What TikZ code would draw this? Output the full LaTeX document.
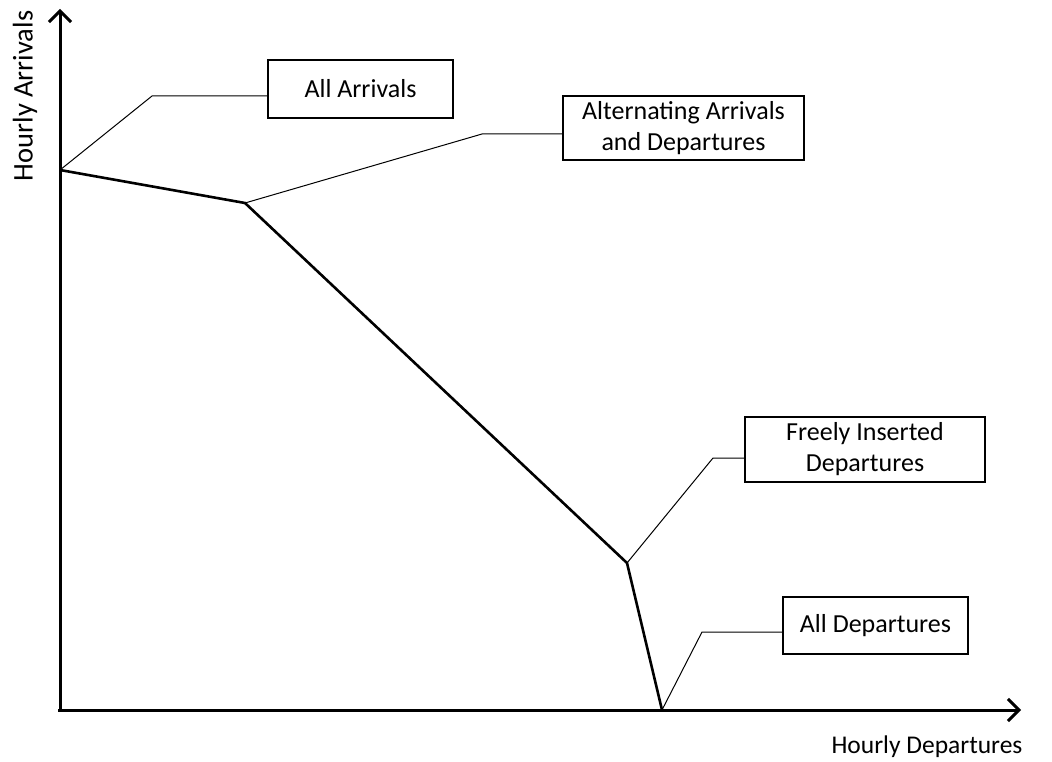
\documentclass[tikz,border=0pt]{standalone}
\usepackage{fontspec}
\setmainfont{Carlito}
\usetikzlibrary{arrows.meta}
\begin{document}
\begin{tikzpicture}[x=1pt,y=-1pt,
  axis/.style={line width=3pt,-{Straight Barb[length=11pt,width=22pt,line width=3pt]}},
  curve/.style={line width=2.6pt,line join=miter},
  leader/.style={line width=1pt},
  label/.style={draw,line width=1.2pt,align=center,inner sep=0pt,
    font=\fontsize{26}{31}\selectfont},
  axlabel/.style={font=\fontsize{25.5}{30}\selectfont,inner sep=0pt}]
\useasboundingbox (0,0) rectangle (1052,762);

% axes
\coordinate (ytop) at (60,9);
\coordinate (xend) at (1021,710);
\draw[axis] (60,712) -- (ytop);
\draw[axis] (58,710) -- (xend);
\node[axlabel,font=\fontsize{28.5}{32}\selectfont,rotate=90] (ylab) at (25,96) {Hourly Arrivals};
\node[axlabel] (xlab) at (927,747) {Hourly Departures};

% capacity envelope
\coordinate (p1) at (60,170);
\coordinate (p2) at (245,203);
\coordinate (p3) at (627,563);
\coordinate (p4) at (662,710);
\draw[curve] (p1) -- (p2) -- (p3) -- (p4);

% annotation boxes
\node[label,minimum width=185pt,minimum height=58pt] (aa) at (360.5,89) {All Arrivals};
\node[label,minimum width=241pt,minimum height=64pt] (ad) at (683.5,128) {Alternating Arrivals\\and Departures};
\node[label,minimum width=240pt,minimum height=65pt] (fi) at (865,449.5) {Freely Inserted\\Departures};
\node[label,minimum width=185pt,minimum height=57pt] (dd) at (875.5,625.5) {All Departures};

% leader elbows
\coordinate (e1) at (152,96);
\coordinate (e2) at (482,134);
\coordinate (e3) at (713,458);
\coordinate (e4) at (702,632);

% leader lines
\draw[leader] (p1) -- (e1) -- (e1 -| aa.west);
\draw[leader] (p2) -- (e2) -- (e2 -| ad.west);
\draw[leader] (p3) -- (e3) -- (e3 -| fi.west);
\draw[leader] (p4) -- (e4) -- (e4 -| dd.west);
\end{tikzpicture}
\end{document}
